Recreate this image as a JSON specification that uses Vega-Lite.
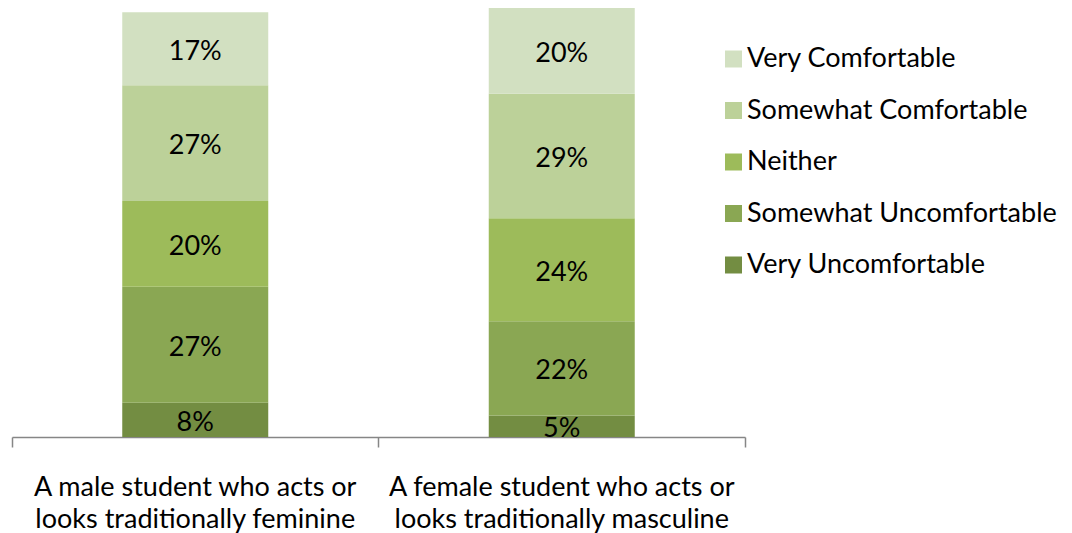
{
  "$schema": "https://vega.github.io/schema/vega-lite/v6.json",
  "autosize": "none",
  "width": 733,
  "height": 429,
  "padding": {"left": 12, "top": 8, "right": 327, "bottom": 96},
  "background": "white",
  "config": {
    "view": {"stroke": null},
    "font": "Lato",
    "text": {"font": "Lato"}
  },
  "data": {
    "values": [
      {"cat": "A male student who acts or|looks traditionally feminine", "response": "Very Uncomfortable", "rank": 1, "value": 0.08},
      {"cat": "A male student who acts or|looks traditionally feminine", "response": "Somewhat Uncomfortable", "rank": 2, "value": 0.27},
      {"cat": "A male student who acts or|looks traditionally feminine", "response": "Neither", "rank": 3, "value": 0.20},
      {"cat": "A male student who acts or|looks traditionally feminine", "response": "Somewhat Comfortable", "rank": 4, "value": 0.27},
      {"cat": "A male student who acts or|looks traditionally feminine", "response": "Very Comfortable", "rank": 5, "value": 0.17},
      {"cat": "A female student who acts or|looks traditionally masculine", "response": "Very Uncomfortable", "rank": 1, "value": 0.05},
      {"cat": "A female student who acts or|looks traditionally masculine", "response": "Somewhat Uncomfortable", "rank": 2, "value": 0.22},
      {"cat": "A female student who acts or|looks traditionally masculine", "response": "Neither", "rank": 3, "value": 0.24},
      {"cat": "A female student who acts or|looks traditionally masculine", "response": "Somewhat Comfortable", "rank": 4, "value": 0.29},
      {"cat": "A female student who acts or|looks traditionally masculine", "response": "Very Comfortable", "rank": 5, "value": 0.20}
    ]
  },
  "encoding": {
    "x": {
      "field": "cat",
      "type": "nominal",
      "sort": null,
      "scale": {"paddingInner": 0, "paddingOuter": 0},
      "axis": {
        "title": null,
        "labelAngle": 0,
        "labelExpr": "isValid(datum.value) ? split(datum.value, '|') : ''",
        "labelFont": "Lato",
        "labelFontSize": 27,
        "labelColor": "#000000",
        "labelLineHeight": 32,
        "labelPadding": 27,
        "labelLimit": 0,
        "bandPosition": 1,
        "tickExtra": true,
        "tickSize": 10,
        "tickColor": "#868686",
        "tickWidth": 1.5,
        "domainColor": "#868686",
        "domainWidth": 1.5,
        "grid": false
      }
    },
    "y": {
      "field": "value",
      "type": "quantitative",
      "stack": "zero",
      "scale": {"domain": [0, 1]},
      "axis": null
    },
    "order": {"field": "rank", "type": "quantitative"}
  },
  "layer": [
    {
      "mark": {"type": "bar", "width": 146},
      "encoding": {
        "color": {
          "field": "response",
          "type": "nominal",
          "scale": {
            "domain": ["Very Comfortable", "Somewhat Comfortable", "Neither", "Somewhat Uncomfortable", "Very Uncomfortable"],
            "range": ["#d2e0c1", "#bcd199", "#9dbb5a", "#8aa753", "#738d42"]
          },
          "legend": {
            "title": null,
            "orient": "none",
            "legendX": 708,
            "legendY": 37.5,
            "padding": 0,
            "symbolType": "square",
            "symbolSize": 289,
            "symbolStrokeWidth": 0,
            "labelFont": "Lato",
            "labelFontSize": 27,
            "labelColor": "#000000",
            "labelOffset": 0,
            "labelLimit": 0,
            "rowPadding": 23.5
          }
        }
      }
    },
    {
      "mark": {"type": "text", "font": "Lato", "fontSize": 27, "color": "#000000", "baseline": "middle", "align": "center", "dy": 3},
      "encoding": {
        "y": {"field": "value", "type": "quantitative", "stack": "zero", "bandPosition": 0.5},
        "text": {"field": "value", "type": "quantitative", "format": ".0%"},
        "detail": {"field": "response"}
      }
    }
  ]
}
